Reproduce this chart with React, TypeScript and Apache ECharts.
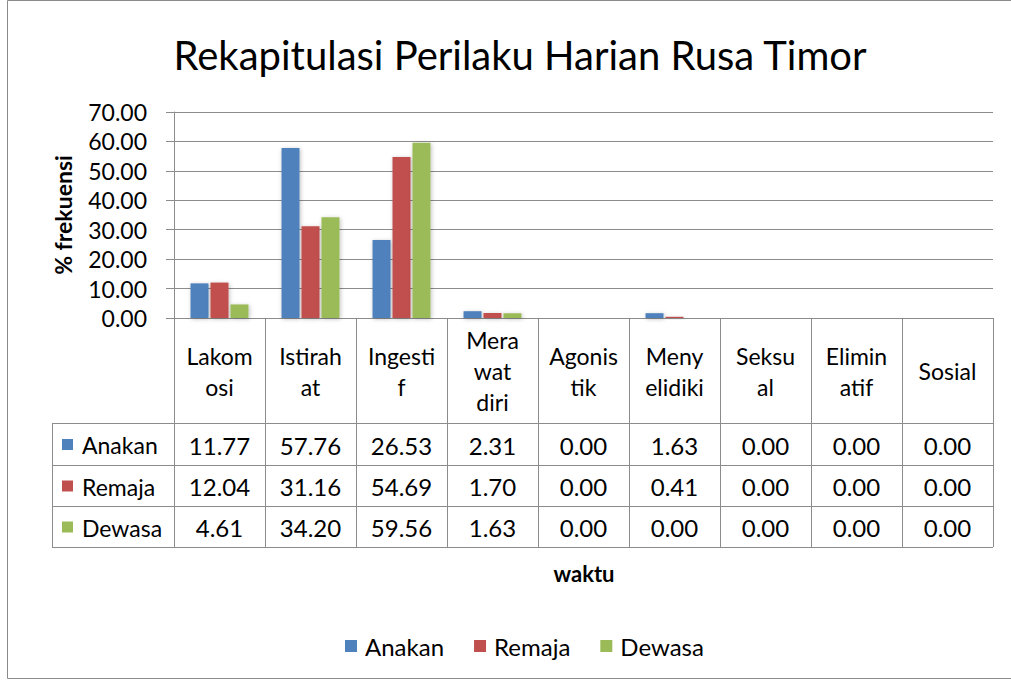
import React, { useEffect, useRef } from "react";
import * as echarts from "echarts";

const titleText = "Rekapitulasi Perilaku Harian Rusa Timor";
const categoryLabels = [
  "Lakom\nosi",
  "Istirah\nat",
  "Ingesti\nf",
  "Mera\nwat\ndiri",
  "Agonis\ntik",
  "Meny\nelidiki",
  "Seksu\nal",
  "Elimin\natif",
  "Sosial",
];
const seriesNames = ["Anakan", "Remaja", "Dewasa"];
const anakan = [11.77, 57.76, 26.53, 2.31, 0.0, 1.63, 0.0, 0.0, 0.0];
const remaja = [12.04, 31.16, 54.69, 1.7, 0.0, 0.41, 0.0, 0.0, 0.0];
const dewasa = [4.61, 34.2, 59.56, 1.63, 0.0, 0.0, 0.0, 0.0, 0.0];
const seriesColors = ["#4F81BD", "#C0504D", "#9BBB59"];
const yMin = 0;
const yMax = 70;
const yInterval = 10;
const yAxisName = "% frekuensi";
const xAxisName = "waktu";

const FONT = "Lato, 'Open Sans', sans-serif";
const LINE = "#8c8c8c";

export default function App() {
  const ref = useRef<HTMLDivElement>(null);
  useEffect(() => {
    if (!ref.current) return;
    const chart = echarts.init(ref.current, undefined, { renderer: "svg" });

    const GL = 174;
    const GT = 112;
    const GW = 819;
    const GH = 206;
    const GB = GT + GH;
    const colW = GW / categoryLabels.length;
    const rowLines = [423, 465, 506, 547];
    const tableLeft = 52;
    const allSeries = [anakan, remaja, dewasa];

    const graphic: any[] = [];
    graphic.push({
      type: "rect",
      shape: { x: 7.5, y: 0.5, width: 1100, height: 678 },
      style: { fill: "none", stroke: "#8a8a8a", lineWidth: 1 },
      silent: true,
    });
    rowLines.forEach((y) => {
      graphic.push({
        type: "line",
        shape: { x1: tableLeft, y1: y + 0.5, x2: GL + GW, y2: y + 0.5 },
        style: { stroke: LINE, lineWidth: 1 },
      });
    });
    graphic.push({
      type: "line",
      shape: { x1: tableLeft + 0.5, y1: rowLines[0], x2: tableLeft + 0.5, y2: rowLines[3] },
      style: { stroke: LINE, lineWidth: 1 },
    });
    allSeries.forEach((vals, r) => {
      const cy = (rowLines[r] + rowLines[r + 1]) / 2 + 1;
      graphic.push({
        type: "rect",
        shape: { x: 62, y: cy - 6, width: 11, height: 11 },
        style: { fill: seriesColors[r] },
      });
      graphic.push({
        type: "text",
        x: 82,
        y: cy,
        style: {
          text: seriesNames[r],
          font: `23px ${FONT}`,
          fill: "#000",
          textAlign: "left",
          textVerticalAlign: "middle",
        },
      });
      vals.forEach((v, c) => {
        graphic.push({
          type: "text",
          x: GL + colW * (c + 0.5),
          y: cy,
          style: {
            text: v.toFixed(2),
            font: `24px ${FONT}`,
            fill: "#000",
            textAlign: "center",
            textVerticalAlign: "middle",
          },
        });
      });
    });
    graphic.push({
      type: "text",
      x: 584,
      y: 573,
      style: {
        text: xAxisName,
        font: `bold 22px ${FONT}`,
        fill: "#000",
        textAlign: "center",
        textVerticalAlign: "middle",
      },
    });

    chart.setOption({
      animation: false,
      backgroundColor: "#fff",
      title: {
        text: titleText,
        left: 515,
        top: 30,
        textAlign: "center",
        textStyle: { fontFamily: FONT, fontSize: 40, fontWeight: "normal", color: "#000" },
      },
      grid: { left: GL, top: GT, width: GW, height: GH, containLabel: false },
      legend: {
        data: seriesNames,
        left: 340,
        top: 629,
        icon: "rect",
        itemWidth: 12,
        itemHeight: 12,
        itemGap: 30,
        textStyle: { fontFamily: FONT, fontSize: 24, color: "#000", padding: [0, 0, 0, 3] },
      },
      xAxis: {
        type: "category",
        data: categoryLabels,
        axisLine: { lineStyle: { color: LINE } },
        axisTick: { show: true, length: rowLines[3] - GB, lineStyle: { color: LINE } },
        axisLabel: {
          interval: 0,
          margin: 53,
          verticalAlign: "middle",
          lineHeight: 31,
          fontFamily: FONT,
          fontSize: 23,
          color: "#000",
        },
      },
      yAxis: {
        type: "value",
        min: yMin,
        max: yMax,
        interval: yInterval,
        name: yAxisName,
        nameLocation: "middle",
        nameGap: 100,
        nameTextStyle: { fontFamily: FONT, fontSize: 23, fontWeight: "bold", color: "#000" },
        axisLine: { show: true, lineStyle: { color: LINE } },
        axisTick: { show: true, length: 8, lineStyle: { color: LINE } },
        splitLine: { lineStyle: { color: LINE } },
        axisLabel: {
          margin: 27,
          formatter: (v: number) => v.toFixed(2),
          fontFamily: FONT,
          fontSize: 23,
          color: "#000",
        },
      },
      series: allSeries.map((vals, i) => ({
        name: seriesNames[i],
        type: "bar",
        data: vals,
        barWidth: 18,
        barGap: "11%",
        itemStyle: {
          color: seriesColors[i],
          shadowBlur: 4,
          shadowColor: "rgba(0,0,0,0.25)",
          shadowOffsetX: 1,
          shadowOffsetY: 1,
        },
      })),
      graphic,
    });
    return () => chart.dispose();
  }, []);
  return (
    <div
      ref={ref}
      style={{ position: "fixed", left: 0, top: 0, width: 1011, height: 680 }}
    />
  );
}
